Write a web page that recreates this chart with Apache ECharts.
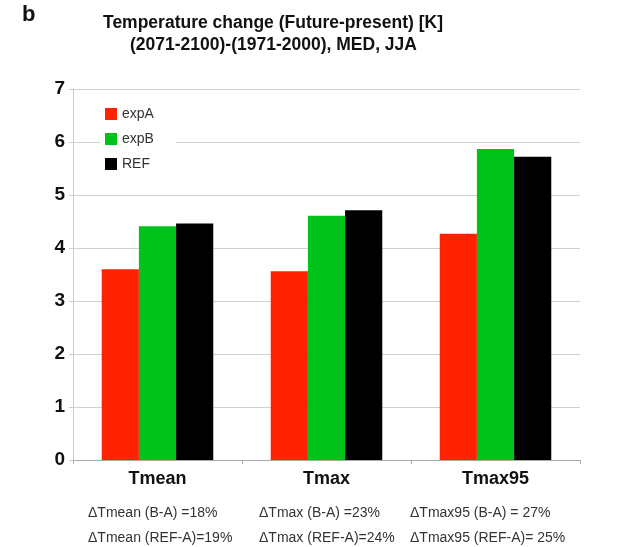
<!DOCTYPE html>
<html><head><meta charset="utf-8">
<script src="https://cdn.jsdelivr.net/npm/echarts@6/dist/echarts.min.js"></script>
<style>html,body{margin:0;padding:0;background:#fff}#c{width:619px;height:547px}</style>
</head><body><div id="c"></div>
<script>
const categories = ['Tmean', 'Tmax', 'Tmax95'];
const expA = [3.60, 3.56, 4.27];
const expB = [4.41, 4.61, 5.87];
const REF = [4.46, 4.71, 5.72];
const yTicks = [0, 1, 2, 3, 4, 5, 6, 7];
const noteLine1 = ['\u0394Tmean (B-A) =18%', '\u0394Tmax (B-A) =23%', '\u0394Tmax95 (B-A) = 27%'];
const noteLine2 = ['\u0394Tmean (REF-A)=19%', '\u0394Tmax (REF-A)=24%', '\u0394Tmax95 (REF-A)= 25%'];
const noteLeft = [88, 259, 410];

const FONT = '"Liberation Sans", Arial, sans-serif';
const chart = echarts.init(document.getElementById('c'));
const graphics = [
  {type:'text', left:22, top:4, style:{text:'b', font:'bold 22px ' + FONT, fill:'#111'}},
  {type:'text', left:103, top:14, style:{text:'Temperature change (Future-present) [K]', font:'bold 17.5px ' + FONT, fill:'#111'}},
  {type:'text', left:130, top:36, style:{text:'(2071-2100)-(1971-2000), MED, JJA', font:'bold 17.5px ' + FONT, fill:'#111'}}
];
categories.forEach((c, i) => {
  graphics.push({type:'text', left:noteLeft[i], top:506, style:{text:noteLine1[i], font:'14px ' + FONT, fill:'#333'}});
  graphics.push({type:'text', left:noteLeft[i], top:531, style:{text:noteLine2[i], font:'14px ' + FONT, fill:'#333'}});
});
chart.setOption({
  animation: false,
  textStyle: {fontFamily: FONT},
  graphic: graphics,
  grid: {left: 73, right: 39, top: 89, bottom: 87},
  legend: {
    orient: 'vertical', left: 100, top: 105,
    icon: 'rect',
    itemWidth: 12, itemHeight: 12, itemGap: 11,
    backgroundColor: '#fff', padding: [2, 22, 2, 5],
    textStyle: {fontSize: 14, color: '#333', fontFamily: FONT},
    data: ['expA', 'expB', 'REF']
  },
  xAxis: {
    type: 'category', data: categories,
    axisLine: {lineStyle: {color: '#aaa'}},
    axisTick: {show: true, length: 4, lineStyle: {color: '#aaa'}},
    axisLabel: {fontSize: 18, fontWeight: 'bold', color: '#111', margin: 10, fontFamily: FONT}
  },
  yAxis: {
    type: 'value', min: yTicks[0], max: yTicks[yTicks.length - 1], interval: 1,
    axisLine: {show: true, lineStyle: {color: '#ccc'}},
    axisTick: {show: true, length: 4, lineStyle: {color: '#ccc'}},
    splitLine: {lineStyle: {color: '#d0d0d0'}},
    axisLabel: {fontSize: 19, fontWeight: 'bold', color: '#111', margin: 8, fontFamily: FONT}
  },
  series: [
    {name: 'expA', type: 'bar', data: expA, itemStyle: {color: '#ff2200'}, barGap: '0%', barCategoryGap: '34%'},
    {name: 'expB', type: 'bar', data: expB, itemStyle: {color: '#00c21a'}},
    {name: 'REF', type: 'bar', data: REF, itemStyle: {color: '#000'}}
  ]
});
</script></body></html>
